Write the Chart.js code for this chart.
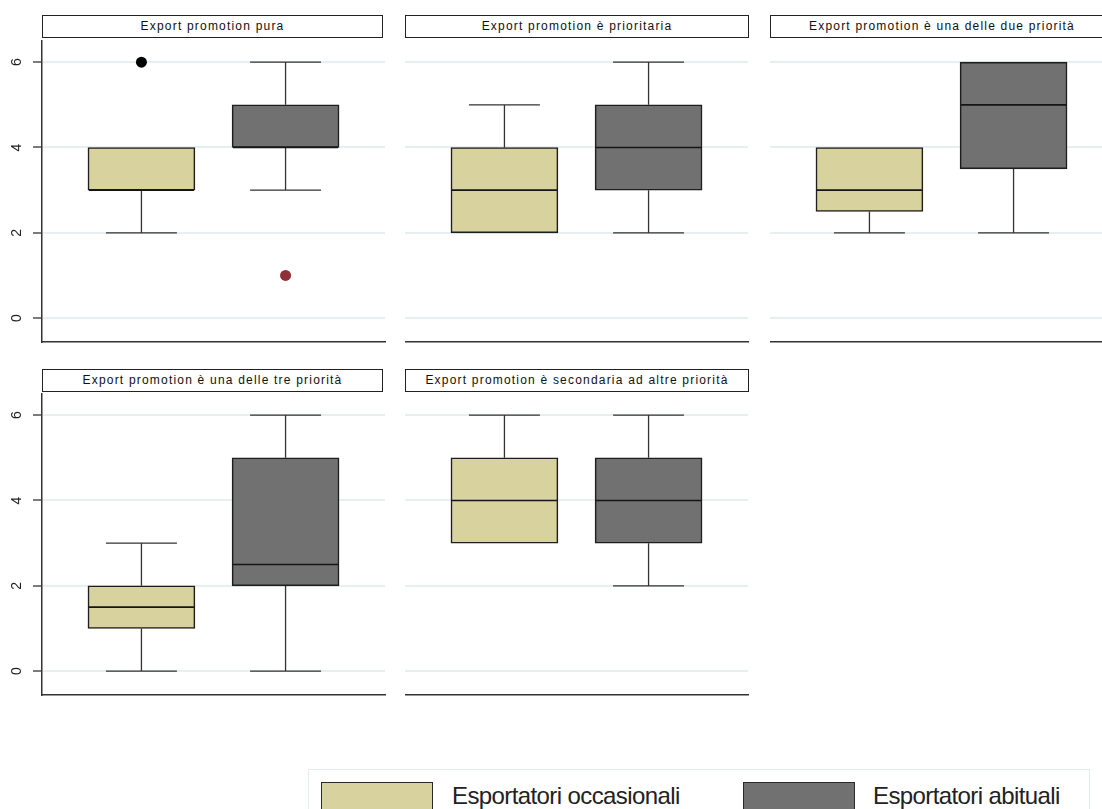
<!DOCTYPE html>
<html>
<head>
<meta charset="utf-8">
<title>Export promotion</title>
<script src="https://cdn.jsdelivr.net/npm/chart.js@4.4.1/dist/chart.umd.min.js"></script>
<style>
  html, body { margin: 0; padding: 0; width: 1102px; height: 809px; overflow: hidden; background: #fff;
               font-family: "Liberation Sans", Arial, sans-serif; }
  canvas { position: absolute; }
  .panel-title { position: absolute; box-sizing: border-box; height: 23px; border: 1.5px solid #222;
                 background: #fff; font-size: 12px; letter-spacing: 1.2px; color: #111; text-align: center;
                 line-height: 20px; white-space: nowrap; overflow: hidden; }
  .legend { position: absolute; left: 308px; top: 769px; width: 782px; height: 56px; box-sizing: border-box;
            border: 1px solid #E3ECEE; }
  .legend .swatch { position: absolute; top: 12px; width: 112px; height: 30px; box-sizing: border-box;
                    border: 1.5px solid #2a2a2a; }
  .legend .label { position: absolute; top: 12px; font-size: 24px; letter-spacing: -0.6px; color: #222;
                   line-height: 28px; white-space: nowrap; }
</style>
</head>
<body>
<script>
// Panel headings, one box plot pair per panel
const panelTitles = [
  'Export promotion pura',
  'Export promotion è prioritaria',
  'Export promotion è una delle due priorità',
  'Export promotion è una delle tre priorità',
  'Export promotion è secondaria ad altre priorità'
];
const groups = ['Esportatori occasionali', 'Esportatori abituali'];
const groupColors = ['#D8D29E', '#717171'];
const outlierColors = ['#000000', '#8F2F37'];

// Box statistics per panel: [occasionali, abituali]
const lowerWhisker  = [[2, 3],   [2, 2], [2, 2],     [0, 0],     [3, 2]];
const lowerQuartile = [[3, 4],   [2, 3], [2.5, 3.5], [1, 2],     [3, 3]];
const medianValue   = [[3, 4],   [3, 4], [3, 5],     [1.5, 2.5], [4, 4]];
const upperQuartile = [[4, 5],   [4, 5], [4, 6],     [2, 5],     [5, 5]];
const upperWhisker  = [[4, 6],   [5, 6], [4, 6],     [3, 6],     [6, 6]];
const outliersOccasionali = [[6], [], [], [], []];
const outliersAbituali    = [[1], [], [], [], []];

const yTicks = [0, 2, 4, 6];

// Page layout of the panel grid
const PLOT_W = 343, PLOT_H = 302, AXIS_W = 42, PAD = 2;
const colLeft = [42, 405, 770];
const rowTop = [40, 393];
const titleTop = [15, 369];
const BOX_PX = 107, CAP_PX = 71;

// Whiskers with caps under the boxes, median lines on top of them
const boxWhiskers = {
  id: 'boxWhiskers',
  beforeDatasetsDraw(chart, args, opts) {
    const p = opts.panel, ctx = chart.ctx, xs = chart.scales.x, ys = chart.scales.y;
    ctx.save();
    ctx.strokeStyle = '#333';
    ctx.lineWidth = 1.3;
    groups.forEach((g, i) => {
      const cx = xs.getPixelForValue(i + 1);
      const half = CAP_PX / 2;
      [[lowerQuartile[p][i], lowerWhisker[p][i]], [upperQuartile[p][i], upperWhisker[p][i]]].forEach(([from, to]) => {
        if (from === to) return; // no whisker beyond the box edge
        const y0 = ys.getPixelForValue(from), y1 = ys.getPixelForValue(to);
        ctx.beginPath();
        ctx.moveTo(cx, y0); ctx.lineTo(cx, y1);
        ctx.moveTo(cx - half, y1); ctx.lineTo(cx + half, y1);
        ctx.stroke();
      });
    });
    ctx.restore();
  },
  afterDatasetsDraw(chart, args, opts) {
    const p = opts.panel, ctx = chart.ctx, xs = chart.scales.x, ys = chart.scales.y;
    ctx.save();
    ctx.strokeStyle = '#151515';
    ctx.lineWidth = 1.6;
    groups.forEach((g, i) => {
      const cx = xs.getPixelForValue(i + 1);
      const yMed = ys.getPixelForValue(medianValue[p][i]);
      ctx.beginPath();
      ctx.moveTo(cx - BOX_PX / 2 + 1, yMed); ctx.lineTo(cx + BOX_PX / 2 - 1, yMed);
      ctx.stroke();
    });
    ctx.restore();
  }
};

panelTitles.forEach((title, p) => {
  const col = p % 3, row = Math.floor(p / 3);
  const showAxis = col === 0;
  const axisW = showAxis ? AXIS_W : 0;

  const head = document.createElement('div');
  head.className = 'panel-title';
  head.style.left = colLeft[col] + 'px';
  head.style.top = titleTop[row] + 'px';
  head.style.width = (showAxis ? PLOT_W - 2 : PLOT_W + 1) + 'px';
  head.textContent = title;
  document.body.appendChild(head);

  const canvas = document.createElement('canvas');
  const cw = axisW + PLOT_W + PAD, ch = PLOT_H + PAD;
  canvas.width = cw; canvas.height = ch;
  canvas.style.width = cw + 'px'; canvas.style.height = ch + 'px';
  canvas.style.left = (colLeft[col] - axisW) + 'px';
  canvas.style.top = rowTop[row] + 'px';
  document.body.appendChild(canvas);

  new Chart(canvas, {
    type: 'bar',
    data: {
      datasets: [
        {
          label: 'box',
          data: groups.map((g, i) => ({ x: i + 1, y: [lowerQuartile[p][i], upperQuartile[p][i]] })),
          backgroundColor: groupColors,
          borderColor: '#1e1e1e',
          borderWidth: 1.6,
          borderSkipped: false,
          barThickness: BOX_PX
        },
        {
          type: 'scatter',
          label: groups[0],
          data: outliersOccasionali[p].map(v => ({ x: 1, y: v })),
          pointRadius: 5.5,
          pointBorderWidth: 0,
          pointBackgroundColor: outlierColors[0]
        },
        {
          type: 'scatter',
          label: groups[1],
          data: outliersAbituali[p].map(v => ({ x: 2, y: v })),
          pointRadius: 5.5,
          pointBorderWidth: 0,
          pointBackgroundColor: outlierColors[1]
        }
      ]
    },
    options: {
      responsive: false,
      animation: false,
      events: [],
      layout: { autoPadding: false, padding: { top: 0, left: 0, right: PAD, bottom: PAD } },
      plugins: {
        legend: { display: false },
        tooltip: { enabled: false },
        title: { display: false },
        boxWhiskers: { panel: p }
      },
      scales: {
        x: {
          type: 'linear',
          min: 0.31,
          max: 2.69,
          offset: false,
          grid: { display: false, offset: false },
          ticks: { display: false },
          border: { display: true, color: '#333', width: 1.5 },
          afterFit: s => { s.height = 0; s.paddingLeft = 0; s.paddingRight = 0; }
        },
        y: {
          type: 'linear',
          min: -0.56,
          max: 6.52,
          afterBuildTicks: s => { s.ticks = yTicks.map(v => ({ value: v })); },
          afterFit: s => { s.width = axisW; s.paddingTop = 0; s.paddingBottom = 0; },
          grid: {
            color: '#E6EFF1',
            lineWidth: 2,
            drawTicks: showAxis,
            tickLength: 9,
            tickColor: '#333',
            tickWidth: 1.3
          },
          border: { display: showAxis, color: '#333', width: 1.5 },
          ticks: {
            display: showAxis,
            minRotation: 90,
            maxRotation: 90,
            crossAlign: 'center',
            padding: 12,
            color: '#222',
            font: { family: '"Liberation Sans", Arial, sans-serif', size: 14 }
          }
        }
      }
    },
    plugins: [boxWhiskers]
  });
});

// Key for the two exporter groups
const legend = document.createElement('div');
legend.className = 'legend';
const swatchLeft = [12, 434];
const labelLeft = [143, 564];
groups.forEach((g, i) => {
  const sw = document.createElement('div');
  sw.className = 'swatch';
  sw.style.left = swatchLeft[i] + 'px';
  sw.style.background = groupColors[i];
  legend.appendChild(sw);
  const lb = document.createElement('div');
  lb.className = 'label';
  lb.style.left = labelLeft[i] + 'px';
  lb.textContent = g;
  legend.appendChild(lb);
});
document.body.appendChild(legend);
</script>
</body>
</html>
